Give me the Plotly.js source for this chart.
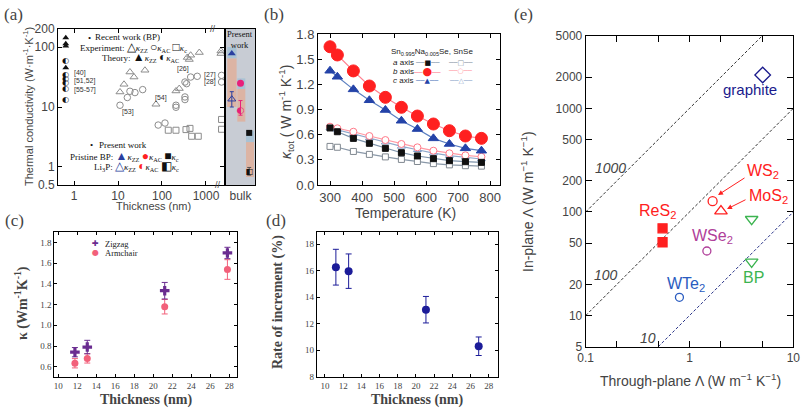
<!DOCTYPE html>
<html><head><meta charset="utf-8">
<script src="https://cdn.plot.ly/plotly-3.0.1.min.js"></script>
<style>body{margin:0;padding:0;background:#fff}#chart{width:803px;height:410px}</style>
</head><body><div id="chart"></div>
<script>
// ---------- Panel (a) data ----------
const aTheoryZZ_x = [0.65, 0.65, 0.65, 0.65];
const aTheoryZZ_y = [143, 114, 104, 45];
const aTheoryAC_x = [0.65, 0.65, 0.65, 0.65, 0.65, 0.65];
const aTheoryAC_y = [58, 34, 29, 25.5, 20.3, 12.9];
const aExpZZ_x = [11.1, 13.7, 18.7, 23.1, 41, 73, 208, 247, 376, 417, 449, 705, 2190, 2190];
const aExpZZ_y = [17.8, 23.9, 38.3, 31.6, 41, 11.1, 18.5, 20.3, 67, 62, 73, 81, 86, 78];
const aExpAC_x = [11.1, 16.3, 18.7, 24.3, 36.4, 82, 117, 208, 208, 333, 333, 333, 363, 449, 634, 2260, 2260];
const aExpAC_y = [10.7, 14.4, 18.3, 17.4, 19.5, 5.0, 5.4, 10.7, 9.9, 14.7, 13.3, 26.1, 24.5, 31.6, 32.5, 33.7, 26.1];
const aExpC_x = [139, 208, 351, 433, 473, 668, 2260, 2260];
const aExpC_y = [4.1, 4.1, 4.2, 4.4, 3.25, 3.25, 6.2, 4.25];
const aBulk_x = [0.6, 1.5, 2.4];
const aBulkPristine_y = [78, 25, 3.7];
const aBulkLi_y = [13.5, 8.8, 0.83];
const aBulkLi_errPlus = [4.5, 4.0, 0.15];
const aBulkLi_errMinus = [3.5, 1.5, 0.1];
const aBandBlue = [[65, 100], [20, 30], [2.6, 4.0]];
const aBandPink = [[10, 65], [5.7, 20], [0.68, 2.6]];
const aBandCols = [[0.13, 1.1], [1.17, 2.0], [2.07, 2.9]];

// ---------- Panel (b) data ----------
const bT = [300, 323, 373, 423, 473, 523, 573, 623, 673, 723, 773];
const bNaA = [0.68, 0.635, 0.556, 0.497, 0.437, 0.385, 0.346, 0.314, 0.29, 0.278, 0.27];
const bNaB = [1.648, 1.55, 1.36, 1.18, 1.045, 0.926, 0.822, 0.727, 0.647, 0.584, 0.556];
const bNaC = [1.362, 1.29, 1.14, 1.01, 0.894, 0.766, 0.667, 0.556, 0.489, 0.437, 0.409];
const bSeA = [0.46, 0.45, 0.40, 0.365, 0.335, 0.305, 0.28, 0.255, 0.24, 0.23, 0.225];
const bSeB = [0.695, 0.676, 0.635, 0.584, 0.536, 0.489, 0.449, 0.409, 0.378, 0.354, 0.337];
const bSeC = [0.68, 0.66, 0.61, 0.56, 0.51, 0.46, 0.42, 0.38, 0.35, 0.33, 0.31];

// ---------- Panel (c) data ----------
const cThick = [11.75, 13.05, 21.2, 27.8];
const cZig = [0.74, 0.79, 1.335, 1.70];
const cZigErr = [0.045, 0.065, 0.08, 0.055];
const cArm = [0.633, 0.68, 1.18, 1.54];
const cArmErr = [0.045, 0.045, 0.07, 0.095];

// ---------- Panel (d) data ----------
const dThick = [11.2, 12.6, 21.1, 26.9];
const dRate = [16.27, 15.97, 13.06, 10.3];
const dErr = [1.35, 1.3, 1.0, 0.7];

// ---------- Panel (e) data ----------
const eRatio1000_x = [0.1, 5], eRatio1000_y = [100, 5000];
const eRatio100_x = [0.1, 10], eRatio100_y = [10, 1000];
const eRatio10_x = [0.5, 10], eRatio10_y = [5, 100];
const eGraphite = {x: [5.07], y: [2100]};
const eWS2 = {x: [1.67], y: [127]};
const eMoS2 = {x: [2.01], y: [102]};
const eReS2 = {x: [0.55, 0.55], y: [69.5, 51]};
const eWSe2 = {x: [1.47], y: [42]};
const eBP = {x: [3.97, 3.97], y: [85, 33]};
const eWTe2 = {x: [0.8], y: [15]};

// ---------- helpers ----------
const W = 803, H = 410;
const fx = v => v / W, fy = v => 1 - v / H;
const SANS = 'Liberation Sans, Arial, sans-serif';
const SERIF = 'Liberation Serif, Times New Roman, serif';
const L = Math.log10;

const traces = [];
// (a)
traces.push({x: aExpZZ_x, y: aExpZZ_y, xaxis: 'x', yaxis: 'y', mode: 'markers',
  marker: {symbol: 'triangle-up-open', size: 7, color: '#8c8c8c', line: {width: 1}}});
traces.push({x: aExpAC_x, y: aExpAC_y, xaxis: 'x', yaxis: 'y', mode: 'markers',
  marker: {symbol: 'circle-open', size: 6.5, color: '#8c8c8c', line: {width: 1}}});
traces.push({x: aExpC_x, y: aExpC_y, xaxis: 'x', yaxis: 'y', mode: 'markers',
  marker: {symbol: 'square-open', size: 6, color: '#8c8c8c', line: {width: 1}}});
traces.push({x: aTheoryZZ_x, y: aTheoryZZ_y, xaxis: 'x', yaxis: 'y', mode: 'markers',
  marker: {symbol: 'triangle-up', size: 6, color: '#111'}});
traces.push({x: aTheoryAC_x, y: aTheoryAC_y, xaxis: 'x', yaxis: 'y', mode: 'text', text: aTheoryAC_x.map(() => '◐'),
  textfont: {family: 'DejaVu Sans', size: 8, color: '#111'}});
// bulk
traces.push({x: [aBulk_x[0]], y: [aBulkPristine_y[0]], xaxis: 'x2', yaxis: 'y2', mode: 'markers',
  marker: {symbol: 'triangle-up', size: 7, color: '#2a3fa0'}});
traces.push({x: [aBulk_x[1]], y: [aBulkPristine_y[1]], xaxis: 'x2', yaxis: 'y2', mode: 'markers',
  marker: {symbol: 'circle', size: 7, color: '#e8207a'}});
traces.push({x: [aBulk_x[2]], y: [aBulkPristine_y[2]], xaxis: 'x2', yaxis: 'y2', mode: 'markers',
  marker: {symbol: 'square', size: 6, color: '#111'}});
traces.push({x: [aBulk_x[0]], y: [aBulkLi_y[0]], xaxis: 'x2', yaxis: 'y2', mode: 'markers',
  marker: {symbol: 'triangle-up-open', size: 7, color: '#2a3fa0'},
  error_y: {type: 'data', symmetric: false, array: [aBulkLi_errPlus[0]], arrayminus: [aBulkLi_errMinus[0]], color: '#2a3fa0', thickness: 1, width: 2}});
traces.push({x: [aBulk_x[1]], y: [aBulkLi_y[1]], xaxis: 'x2', yaxis: 'y2', mode: 'text', text: ['◐'],
  textfont: {family: 'DejaVu Sans', size: 9, color: '#e8207a'},
  error_y: {type: 'data', symmetric: false, array: [aBulkLi_errPlus[1]], arrayminus: [aBulkLi_errMinus[1]], color: '#e8207a', thickness: 1, width: 2}});
traces.push({x: [aBulk_x[2]], y: [aBulkLi_y[2]], xaxis: 'x2', yaxis: 'y2', mode: 'text', text: ['◧'],
  textfont: {family: 'DejaVu Sans', size: 8, color: '#111'},
  error_y: {type: 'data', symmetric: false, array: [aBulkLi_errPlus[2]], arrayminus: [aBulkLi_errMinus[2]], color: '#555', thickness: 1, width: 2}});

// (b)
function bLine(y, sym, size, mcol, lcol, open) {
  return {x: bT, y: y, xaxis: 'x3', yaxis: 'y3', mode: 'lines+markers',
    line: {color: lcol, width: 1.2},
    marker: {symbol: sym, size: size, color: open ? '#fff' : mcol, line: {color: mcol, width: 1}}};
}
traces.push(bLine(bSeA, 'square', 6, '#808890', '#8a98a8', true));
traces.push(bLine(bSeC, 'triangle-up', 7, '#7f9cc8', '#8fa8cc', true));
traces.push(bLine(bSeB, 'circle', 7, '#ff7a8a', '#ff9aa4', true));
traces.push(bLine(bNaA, 'square', 6, '#111', '#7d93ab', false));
traces.push(bLine(bNaC, 'triangle-up', 9, '#2443a8', '#5a7ec0', false));
traces.push(bLine(bNaB, 'circle', 12, '#ff2020', '#ff8090', false));

// (c)
traces.push({x: cThick, y: cArm, xaxis: 'x5', yaxis: 'y5', mode: 'markers',
  marker: {symbol: 'circle', size: 7, color: '#f2607a'},
  error_y: {type: 'data', array: cArmErr, color: '#f2607a', thickness: 1, width: 3}});
traces.push({x: cThick, y: cZig, xaxis: 'x5', yaxis: 'y5', mode: 'markers',
  marker: {symbol: 'cross', size: 8, color: '#6a2c90'},
  error_y: {type: 'data', array: cZigErr, color: '#6a2c90', thickness: 1, width: 3}});

// (d)
traces.push({x: dThick, y: dRate, xaxis: 'x6', yaxis: 'y6', mode: 'markers',
  marker: {symbol: 'circle', size: 8, color: '#1c1c99'},
  error_y: {type: 'data', array: dErr, color: '#1c1c99', thickness: 1, width: 3}});

// (e)
const dashE = '3px,2px';
traces.push({x: eRatio1000_x, y: eRatio1000_y, xaxis: 'x4', yaxis: 'y4', mode: 'lines', line: {color: '#333', width: 1, dash: dashE}});
traces.push({x: eRatio100_x, y: eRatio100_y, xaxis: 'x4', yaxis: 'y4', mode: 'lines', line: {color: '#333', width: 1, dash: dashE}});
traces.push({x: eRatio10_x, y: eRatio10_y, xaxis: 'x4', yaxis: 'y4', mode: 'lines', line: {color: '#2a3488', width: 1, dash: dashE}});
function ePts(d, sym, size, col) {
  return {x: d.x, y: d.y, xaxis: 'x4', yaxis: 'y4', mode: 'markers',
    marker: {symbol: sym, size: size, color: col, line: {color: col, width: 1.3}}};
}
traces.push(ePts(eGraphite, 'diamond-open', 12, '#1a1a8c'));
traces.push(ePts(eWS2, 'circle-open', 9, '#ff2020'));
traces.push(ePts(eMoS2, 'triangle-up-open', 11, '#ff2020'));
traces.push(ePts(eReS2, 'square', 9, '#ff2020'));
traces.push(ePts(eWSe2, 'circle-open', 8, '#b0409a'));
traces.push(ePts(eBP, 'triangle-down-open', 11, '#3cb450'));
traces.push(ePts(eWTe2, 'circle-open', 8, '#2a5cc0'));

// ---------- axes ----------
const blk = '#000';
const base = {showgrid: false, zeroline: false, showline: true, linecolor: blk, linewidth: 1, ticks: 'inside', mirror: 'ticks', ticklen: 4, tickcolor: blk};
const layout = {
  width: W, height: H, margin: {l: 0, r: 0, t: 0, b: 0}, showlegend: false,
  paper_bgcolor: '#fff', plot_bgcolor: 'rgba(0,0,0,0)',
  xaxis: Object.assign({}, base, {domain: [fx(58), fx(224)], anchor: 'y', type: 'log', range: [-0.364, 3.41],
    tickvals: [1, 10, 100, 1000], ticktext: ['1', '10', '100', '1000'], tickfont: {family: SANS, size: 12}}),
  yaxis: Object.assign({}, base, {domain: [fy(185), fy(29)], anchor: 'x', type: 'log', range: [-0.301, 2.301],
    tickvals: [0.5, 1, 10, 100, 200], ticktext: ['0.5', '1', '10', '100', '200'], tickfont: {family: SANS, size: 12}}),
  xaxis2: Object.assign({}, base, {domain: [fx(226), fx(255)], anchor: 'y2', range: [0, 3], ticks: '',
    tickvals: [1.5], ticktext: ['bulk'], tickfont: {family: SANS, size: 12}}),
  yaxis2: Object.assign({}, base, {domain: [fy(185), fy(29)], anchor: 'x2', type: 'log', range: [-0.301, 2.301],
    ticks: '', showticklabels: false}),
  xaxis3: Object.assign({}, base, {domain: [fx(318), fx(500)], anchor: 'y3', range: [262.5, 831],
    tickvals: [300, 400, 500, 600, 700, 800], tickfont: {family: SANS, size: 13}}),
  yaxis3: Object.assign({}, base, {domain: [fy(185), fy(34)], anchor: 'x3', range: [0, 1.8],
    tickvals: [0, 0.3, 0.6, 0.9, 1.2, 1.5, 1.8], ticktext: ['0.0', '0.3', '0.6', '0.9', '1.2', '1.5', '1.8'], tickfont: {family: SANS, size: 13}}),
  xaxis4: Object.assign({}, base, {domain: [fx(585.7), fx(793.3)], anchor: 'y4', type: 'log', range: [-1, 1],
    tickvals: [0.1, 1, 10], ticktext: ['0.1', '1', '10'], ticklen: 6, tickfont: {family: SANS, size: 12},
    minor: {tickvals: [0.2, 0.5, 2, 5], ticks: 'inside', ticklen: 6, tickcolor: blk}}),
  yaxis4: Object.assign({}, base, {domain: [fy(346.7), fy(36)], anchor: 'x4', type: 'log', range: [L(5), L(5000)],
    tickvals: [5, 10, 20, 50, 100, 200, 500, 1000, 2000, 5000], ticktext: ['5', '10', '20', '50', '100', '200', '500', '1000', '2000', '5000'],
    ticklen: 6, tickfont: {family: SANS, size: 12}}),
  xaxis5: Object.assign({}, base, {domain: [fx(54.3), fx(237.3)], anchor: 'y5', range: [9.58, 28.84],
    tickvals: [10, 12, 14, 16, 18, 20, 22, 24, 26, 28], ticklen: 3, tickfont: {family: SERIF, size: 9}}),
  yaxis5: Object.assign({}, base, {domain: [fy(376.7), fy(232.3)], anchor: 'x5', range: [0.503, 1.9],
    tickvals: [0.6, 0.8, 1.0, 1.2, 1.4, 1.6, 1.8], ticktext: ['0.6', '0.8', '1.0', '1.2', '1.4', '1.6', '1.8'], ticklen: 3, tickfont: {family: SERIF, size: 9}}),
  xaxis6: Object.assign({}, base, {domain: [fx(316.7), fx(497.7)], anchor: 'y6', range: [9.09, 28.99],
    tickvals: [10, 12, 14, 16, 18, 20, 22, 24, 26, 28], ticklen: 3, tickfont: {family: SERIF, size: 9}}),
  yaxis6: Object.assign({}, base, {domain: [fy(376.7), fy(231.7)], anchor: 'x6', range: [8, 18.95],
    tickvals: [8, 10, 12, 14, 16, 18], ticklen: 3, tickfont: {family: SERIF, size: 9}}),
  shapes: [], annotations: []
};

// bulk shading (shape coordinates on log axes are data values in Plotly v3)
layout.shapes.push({type: 'rect', xref: 'x2', yref: 'y2', x0: 0, x1: 3, y0: 0.5, y1: 200, fillcolor: '#c8ccd4', line: {width: 0}, layer: 'below'});
aBandCols.forEach((c, i) => {
  layout.shapes.push({type: 'rect', xref: 'x2', yref: 'y2', x0: c[0], x1: c[1], y0: aBandPink[i][0], y1: aBandPink[i][1], fillcolor: '#dcb4a4', line: {width: 0}, layer: 'below'});
  layout.shapes.push({type: 'rect', xref: 'x2', yref: 'y2', x0: c[0], x1: c[1], y0: aBandBlue[i][0], y1: aBandBlue[i][1], fillcolor: '#a9c2d4', line: {width: 0}, layer: 'below'});
});

function ann(x, y, text, o) {
  layout.annotations.push(Object.assign({xref: 'paper', yref: 'paper', x: fx(x), y: fy(y), text: text, showarrow: false,
    xanchor: 'left', yanchor: 'middle', font: {family: SANS, size: 12, color: '#000'}}, o || {}));
}
// panel letters
ann(2, 14, '(a)', {font: {family: SERIF, size: 17}});
ann(262, 14, '(b)', {font: {family: SERIF, size: 17}});
ann(512, 14, '(e)', {font: {family: SERIF, size: 17}});
ann(3, 220, '(c)', {font: {family: SERIF, size: 17}});
ann(264, 220, '(d)', {font: {family: SERIF, size: 17}});

// (a) titles
ann(28, 107, 'Thermal conductivity (W·m<sup>-1</sup>·K<sup>-1</sup>)', {xanchor: 'center', textangle: -90, font: {family: SANS, size: 11}});
ann(153, 206, 'Thickness (nm)', {xanchor: 'center', font: {family: SANS, size: 11}});
// (a) legend
const sF = {family: SERIF, size: 9, color: '#111'};
const ks = s => '<i>κ</i><sub>' + s + '</sub>';
ann(86, 38, '•', {font: sF});
ann(93, 37, 'Recent work (BP)', {font: sF});
ann(78, 47, 'Experiment: <span style="font-size:12px">△</span>' + ks('ZZ') + ' <span style="font-size:12px">○</span>' + ks('AC') + ' <span style="font-size:12px">□</span>' + ks('c'), {font: sF});
ann(100, 56.5, 'Theory: <span style="font-size:12px">▲</span>' + ks('ZZ') + ' <span style="font-size:12px">◐</span>' + ks('AC'), {font: sF});
ann(88, 145, '•', {font: sF});
ann(97, 145, 'Present work', {font: sF});
ann(68, 156, 'Pristine BP: <span style="font-size:12px;fill:#2a3fa0">▲</span>' + ks('ZZ') + ' <span style="font-size:12px;fill:#ff2020">●</span>' + ks('AC') + ' <span style="font-size:12px">■</span>' + ks('c'), {font: sF});
ann(92, 166, 'Li<sub>3</sub>P: <span style="font-size:12px;fill:#2a3fa0">△</span>' + ks('ZZ') + ' <span style="font-size:12px;fill:#ff2020">◐</span>' + ks('AC') + ' <span style="font-size:12px">◧</span>' + ks('c'), {font: sF});
const rF = {family: SANS, size: 7, color: '#333'};
ann(72, 73, '[40]', {font: rF});
ann(72, 81.5, '[51,52]', {font: rF});
ann(72, 90, '[55-57]', {font: rF});
ann(120, 112, '[53]', {font: rF});
ann(153, 98, '[54]', {font: rF});
ann(175, 69, '[26]', {font: rF});
ann(218, 75, '[27]', {font: rF, xanchor: 'right'});
ann(218, 82, '[28]', {font: rF, xanchor: 'right'});
ann(240.5, 40, 'Present<br>work', {xanchor: 'center', font: {family: SERIF, size: 8.5, color: '#111'}, align: 'center'});
ann(213, 29, '//', {xanchor: 'center', font: {family: SANS, size: 9}});
ann(218, 185, '//', {xanchor: 'center', font: {family: SANS, size: 9}});

// (b) titles & legend
ann(405, 213, 'Temperature (K)', {xanchor: 'center', font: {family: SANS, size: 14}});
ann(286, 112, '<i>κ</i><sub>tot</sub> ( W m<sup>-1</sup> K<sup>-1</sup>)', {xanchor: 'center', textangle: -90, font: {family: SANS, size: 14}});
const lF = {family: SANS, size: 8, color: '#222'};
ann(389, 52, 'Sn<sub>0.995</sub>Na<sub>0.005</sub>Se, SnSe', {font: lF});
ann(391, 62.7, '<i>a</i> axis', {font: lF});
ann(391, 71.2, '<i>b</i> axis', {font: lF});
ann(391, 80.7, '<i>c</i> axis', {font: lF});
ann(427, 62.7, '<span style="fill:#7d93ab">──</span><span style="fill:#111">■</span><span style="fill:#7d93ab">──</span>', {xanchor: 'center', font: {family: 'DejaVu Sans', size: 7}});
ann(427, 71.2, '<span style="fill:#ff8090">──</span><span style="fill:#ff2020;font-size:11px">●</span><span style="fill:#ff8090">──</span>', {xanchor: 'center', font: {family: 'DejaVu Sans', size: 7}});
ann(427, 80.7, '<span style="fill:#5a7ec0">──</span><span style="fill:#2443a8">▲</span><span style="fill:#5a7ec0">──</span>', {xanchor: 'center', font: {family: 'DejaVu Sans', size: 7}});
ann(461, 62.7, '<span style="fill:#8a98a8">──□──</span>', {xanchor: 'center', font: {family: 'DejaVu Sans', size: 7}});
ann(461, 71.2, '<span style="fill:#ff9aa4">──○──</span>', {xanchor: 'center', font: {family: 'DejaVu Sans', size: 7}});
ann(461, 80.7, '<span style="fill:#8fa8cc">──△──</span>', {xanchor: 'center', font: {family: 'DejaVu Sans', size: 7}});

// (c) titles & legend
ann(146, 400, '<b>Thickness (nm)</b>', {xanchor: 'center', font: {family: SERIF, size: 14}});
ann(21, 303, '<b>κ (Wm<sup>-1</sup>K<sup>-1</sup>)</b>', {xanchor: 'center', textangle: -90, font: {family: SERIF, size: 14}});
ann(95, 243.5, '✚', {xanchor: 'center', font: {family: 'DejaVu Sans', size: 8, color: '#6a2c90'}});
ann(95, 252.7, '●', {xanchor: 'center', font: {family: 'DejaVu Sans', size: 8, color: '#f2607a'}});
ann(103, 243.5, 'Zigzag', {font: {family: SERIF, size: 8.5, color: '#222'}});
ann(103, 252.7, 'Armchair', {font: {family: SERIF, size: 8.5, color: '#222'}});

// (d) titles
ann(417, 400, '<b>Thickness (nm)</b>', {xanchor: 'center', font: {family: SERIF, size: 14}});
ann(278, 302, '<b>Rate of increment (%)</b>', {xanchor: 'center', textangle: -90, font: {family: SERIF, size: 14}});

// (e) titles & labels
ann(690, 380, 'Through-plane Λ (W m<sup>−1</sup> K<sup>−1</sup>)', {xanchor: 'center', font: {family: SANS, size: 14}});
ann(527, 202, 'In-plane Λ (W m<sup>−1</sup> K<sup>−1</sup>)', {xanchor: 'center', textangle: -90, font: {family: SANS, size: 14}});
ann(750, 90, 'graphite', {xanchor: 'center', font: {family: SANS, size: 15, color: '#1a1a8c'}});
ann(763, 172, 'WS<sub>2</sub>', {xanchor: 'center', font: {family: SANS, size: 16, color: '#ff2020'}});
ann(768, 196, 'MoS<sub>2</sub>', {xanchor: 'center', font: {family: SANS, size: 16, color: '#ff2020'}});
ann(657, 211, 'ReS<sub>2</sub>', {xanchor: 'center', font: {family: SANS, size: 16, color: '#ff2020'}});
ann(712, 237, 'WSe<sub>2</sub>', {xanchor: 'center', font: {family: SANS, size: 16, color: '#b0409a'}});
ann(753, 277, 'BP', {xanchor: 'center', font: {family: SANS, size: 16, color: '#3cb450'}});
ann(686, 284, 'WTe<sub>2</sub>', {xanchor: 'center', font: {family: SANS, size: 16, color: '#2a5cc0'}});
ann(610, 168, '<i>1000</i>', {xanchor: 'center', font: {family: SANS, size: 14}});
ann(606, 275, '<i>100</i>', {xanchor: 'center', font: {family: SANS, size: 14}});
ann(648, 338, '<i>10</i>', {xanchor: 'center', font: {family: SANS, size: 14}});
// arrows
layout.annotations.push({xref: 'paper', yref: 'paper', x: fx(718), y: fy(195), ax: 28, ay: -18, text: '', showarrow: true, arrowcolor: '#ff2020', arrowwidth: 1, arrowhead: 2, arrowsize: 1});
layout.annotations.push({xref: 'paper', yref: 'paper', x: fx(727), y: fy(209), ax: 20, ay: -10, text: '', showarrow: true, arrowcolor: '#ff2020', arrowwidth: 1, arrowhead: 2, arrowsize: 1});

Plotly.newPlot('chart', traces, layout, {staticPlot: true, displayModeBar: false});
</script></body></html>
